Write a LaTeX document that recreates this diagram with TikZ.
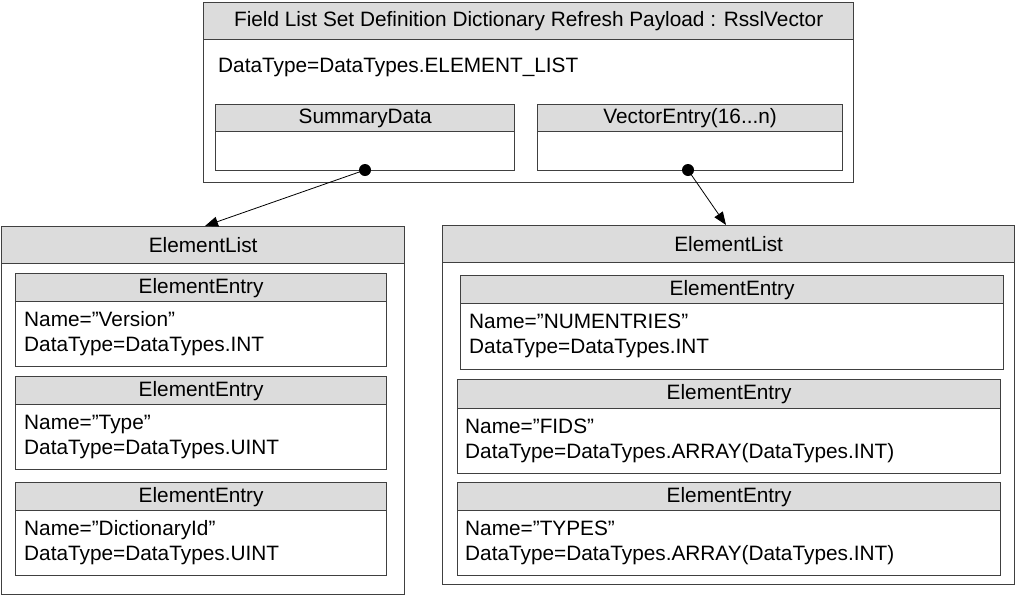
\documentclass[tikz,border=0pt]{standalone}
\usepackage{fontspec}
\setmainfont{Liberation Sans}
\usepackage{tikz}
\usetikzlibrary{arrows.meta,positioning}
\definecolor{edge}{HTML}{404040}
\definecolor{headfill}{HTML}{DCDCDC}
\newcommand\diag{\fontsize{20.8}{25}\selectfont}
\tikzset{
  listbox/.style={draw=edge,line width=1.3pt,fill=white,anchor=north west,inner sep=0pt},
  headbar/.style={draw=edge,line width=1.3pt,fill=headfill,anchor=north west,
                  inner sep=0pt,font=\diag},
  field/.style  ={anchor=west,align=left,inner sep=0pt,font=\diag},
  dot/.style    ={circle,fill=black,inner sep=0pt,minimum size=12pt},
  link/.style   ={-{Triangle[length=13pt,width=10pt]},line width=0.8pt,draw=black}
}

\begin{document}
\begin{tikzpicture}[x=1pt,y=-1pt]
  \useasboundingbox (0,0) rectangle (1015,595);
  % vector payload
  \node[listbox,minimum width=650pt,minimum height=180pt] (vec) at (203,2) {};
  \node[headbar,minimum width=650pt,minimum height=37pt] (vechd) at (vec.north west)
       {Field List Set Definition Dictionary Refresh Payload : RsslVector};
  \node[field] (vecdt) at (218,67) {DataType=DataTypes.ELEMENT\_LIST};
  \node[listbox,minimum width=299pt,minimum height=66pt] (sum) at (215,104) {};
  \node[headbar,minimum width=299pt,minimum height=27pt] (sumhd) at (sum.north west) {SummaryData};
  \node[listbox,minimum width=305pt,minimum height=66pt] (ent) at (537,104) {};
  \node[headbar,minimum width=305pt,minimum height=27pt] (enthd) at (ent.north west) {VectorEntry(16...n)};
  \node[dot] (sdot) at (365,170) {};
  \node[dot] (edot) at (688,170) {};

  % summary element list
  \node[listbox,minimum width=403pt,minimum height=368pt] (lsum) at (1,226) {};
  \node[headbar,minimum width=403pt,minimum height=37pt] (lsumhd) at (lsum.north west) {ElementList};
  \node[listbox,minimum width=371pt,minimum height=93pt] (lsum1) at (15,273) {};
  \node[headbar,minimum width=371pt,minimum height=28pt] at (lsum1.north west) {ElementEntry};
  \node[field] at (24,333.5) {Name=”Version”\\DataType=DataTypes.INT};
  \node[listbox,minimum width=371pt,minimum height=93pt] (lsum2) at (15,376) {};
  \node[headbar,minimum width=371pt,minimum height=28pt] at (lsum2.north west) {ElementEntry};
  \node[field] at (24,436.5) {Name=”Type”\\DataType=DataTypes.UINT};
  \node[listbox,minimum width=371pt,minimum height=93pt] (lsum3) at (15,482) {};
  \node[headbar,minimum width=371pt,minimum height=28pt] at (lsum3.north west) {ElementEntry};
  \node[field] at (24,542.5) {Name=”DictionaryId”\\DataType=DataTypes.UINT};

  % entry element list
  \node[listbox,minimum width=572pt,minimum height=359pt] (lent) at (442,225) {};
  \node[headbar,minimum width=572pt,minimum height=37pt] (lenthd) at (lent.north west) {ElementList};
  \node[listbox,minimum width=543pt,minimum height=94pt] (lent1) at (460,275) {};
  \node[headbar,minimum width=543pt,minimum height=28pt] at (lent1.north west) {ElementEntry};
  \node[field] at (469,336) {Name=”NUMENTRIES”\\DataType=DataTypes.INT};
  \node[listbox,minimum width=543pt,minimum height=94pt] (lent2) at (457,379) {};
  \node[headbar,minimum width=543pt,minimum height=29pt] at (lent2.north west) {ElementEntry};
  \node[field] at (465,440.5) {Name=”FIDS”\\DataType=DataTypes.ARRAY(DataTypes.INT)};
  \node[listbox,minimum width=543pt,minimum height=93pt] (lent3) at (457,482) {};
  \node[headbar,minimum width=543pt,minimum height=28pt] at (lent3.north west) {ElementEntry};
  \node[field] at (465,542.5) {Name=”TYPES”\\DataType=DataTypes.ARRAY(DataTypes.INT)};

  \draw[link] (sdot.center) -- ([xshift=204pt]lsum.north west);
  \draw[link] (edot.center) -- ([xshift=284pt]lent.north west);
\end{tikzpicture}
\end{document}
